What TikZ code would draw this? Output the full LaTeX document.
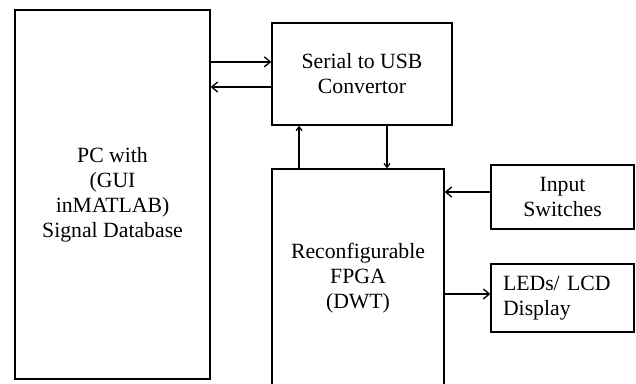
\documentclass[tikz,border=0pt]{standalone}
\usepackage{fontspec}
\setmainfont{Liberation Serif}
\usetikzlibrary{arrows.meta}
\tikzset{bloc/.style={draw,line width=1pt,align=center,inner sep=2pt,
  font=\fontsize{16.3}{18.8}\selectfont}}
\tikzset{fleche/.style={-{Straight Barb[length=4.5pt,width=7.5pt,line width=1pt]},line width=1pt}}
\tikzset{petite/.style={-{Straight Barb[length=3pt,width=4.5pt,line width=0.9pt]},line width=1pt}}

\begin{document}
\begin{tikzpicture}[x=1pt,y=-1pt]
\clip (0,0) rectangle (477,287.25);
% the blocks
\node[bloc,minimum width=146.25pt,minimum height=276.75pt] (pc) at (84.4,145.9)
  {PC with\\(GUI\\inMATLAB)\\Signal Database};
\node[bloc,minimum width=135pt,minimum height=76.5pt] (usb) at (271.5,55.5)
  {Serial to USB\\Convertor};
\node[bloc,minimum width=129pt,minimum height=163.5pt] (fpga) at (268.5,208.5)
  {Reconfigurable\\FPGA\\(DWT)};
\node[bloc,minimum width=107.25pt,minimum height=48pt] (sw) at (421.9,147.75)
  {Input\\Switches};
\node[bloc,align=left,text width=89.25pt,inner sep=9pt,minimum height=46.5pt] (led) at (421.9,223.5)
  {LEDs/ LCD\\Display};
% the links
\draw[fleche] (pc.east |- 0,46.4) -- (usb.west |- 0,46.4);
\draw[fleche] (usb.west |- 0,65.25) -- (pc.east |- 0,65.25);
\draw[petite] (fpga.north -| 224.3,0) -- (usb.south -| 224.3,0);
\draw[petite] (usb.south -| 290.25,0) -- (fpga.north -| 290.25,0);
\draw[fleche] (sw.west |- 0,144) -- (fpga.east |- 0,144);
\draw[fleche] (fpga.east |- 0,220.5) -- (led.west |- 0,220.5);
\end{tikzpicture}
\end{document}
